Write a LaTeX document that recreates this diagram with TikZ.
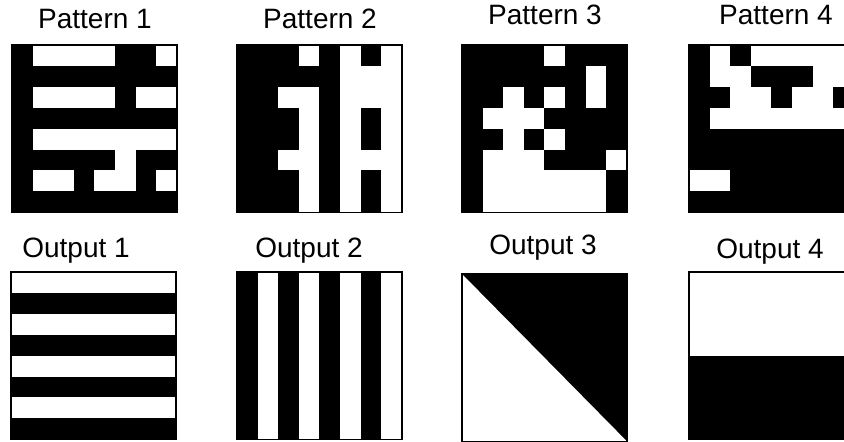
\documentclass[tikz,border=0pt]{standalone}
\usepackage{fontspec}
\setmainfont{Liberation Sans}
\usetikzlibrary{positioning}

\tikzset{
  % black ground of an 8x8 square
  gridbox/.style={fill=black},
  % a run of white cells
  onecell/.style={fill=white},
  % thin frame round a square
  gridframe/.style={draw=black, line width=1.4pt},
  % caption above a square
  lbl/.style={font=\fontsize{28}{32}\selectfont, anchor=base, inner sep=0pt}
}

% #1,#2: top left corner; #3: white runs col/row/col/row
\newcommand{\drawgrid}[3]{%
  \begin{scope}[shift={(#1,#2)}, x=20.6pt, y=-20.9pt]
    \fill[gridbox] (0,0) rectangle (8,8);
    \foreach \ca/\ra/\cb/\rb in {#3}
      \fill[onecell] (\ca,\ra) rectangle (\cb,\rb);
    \draw[gridframe] (0,0) rectangle (8,8);
  \end{scope}}

\begin{document}
\begin{tikzpicture}[x=1pt, y=-1pt]

  \useasboundingbox (0,0) rectangle (844,442);
  \clip (0,0) rectangle (844,442);

  % Input patterns
  \drawgrid{12}{45}{1/0/5/1, 7/0/8/1, 1/2/5/3, 6/2/8/3, 1/4/8/5,
                    5/5/6/6, 1/6/3/7, 4/6/6/7, 7/6/8/7}
  \drawgrid{237}{45}{3/0/4/1, 3/2/4/8, 2/2/3/3, 2/5/3/6, 5/0/6/8,
                     7/0/8/8, 6/1/7/3, 6/5/7/6}
  \drawgrid{462}{45}{4/0/5/1, 6/1/7/3, 4/2/5/3, 2/2/3/8, 1/3/4/4,
                     4/4/5/5, 1/5/4/6, 7/5/8/6, 1/6/7/8}
  \drawgrid{689}{45}{1/0/2/1, 3/0/8/1, 1/1/3/2, 6/1/8/2, 2/2/4/3,
                     5/2/7/3, 1/3/8/4, 0/6/2/7}

  % Outputs
  \drawgrid{11}{272}{0/0/8/1, 0/2/8/3, 0/4/8/5, 0/6/8/7}
  \drawgrid{237}{272}{1/0/2/8, 3/0/4/8, 5/0/6/8, 7/0/8/8}
  \begin{scope}[shift={(462,274)}, x=20.6pt, y=-20.9pt]
    \fill[gridbox] (0,0) rectangle (8,8);
    \fill[onecell] (0,0) -- (8,8) -- (0,8) -- cycle;
    \draw[gridframe] (0,0) rectangle (8,8);
  \end{scope}
  \drawgrid{689}{272}{0/0/8/4}

  % Captions
  \node[lbl] (pat1) at (95,28) {Pattern 1};
  \node[lbl] (pat2) at (320,28) {Pattern 2};
  \node[lbl] (pat3) at (545,24) {Pattern 3};
  \node[lbl] (pat4) at (776,24) {Pattern 4};
  \node[lbl] (out1) at (76,257) {Output 1};
  \node[lbl] (out2) at (309,257) {Output 2};
  \node[lbl] (out3) at (543,254) {Output 3};
  \node[lbl] (out4) at (770,258) {Output 4};

\end{tikzpicture}
\end{document}
